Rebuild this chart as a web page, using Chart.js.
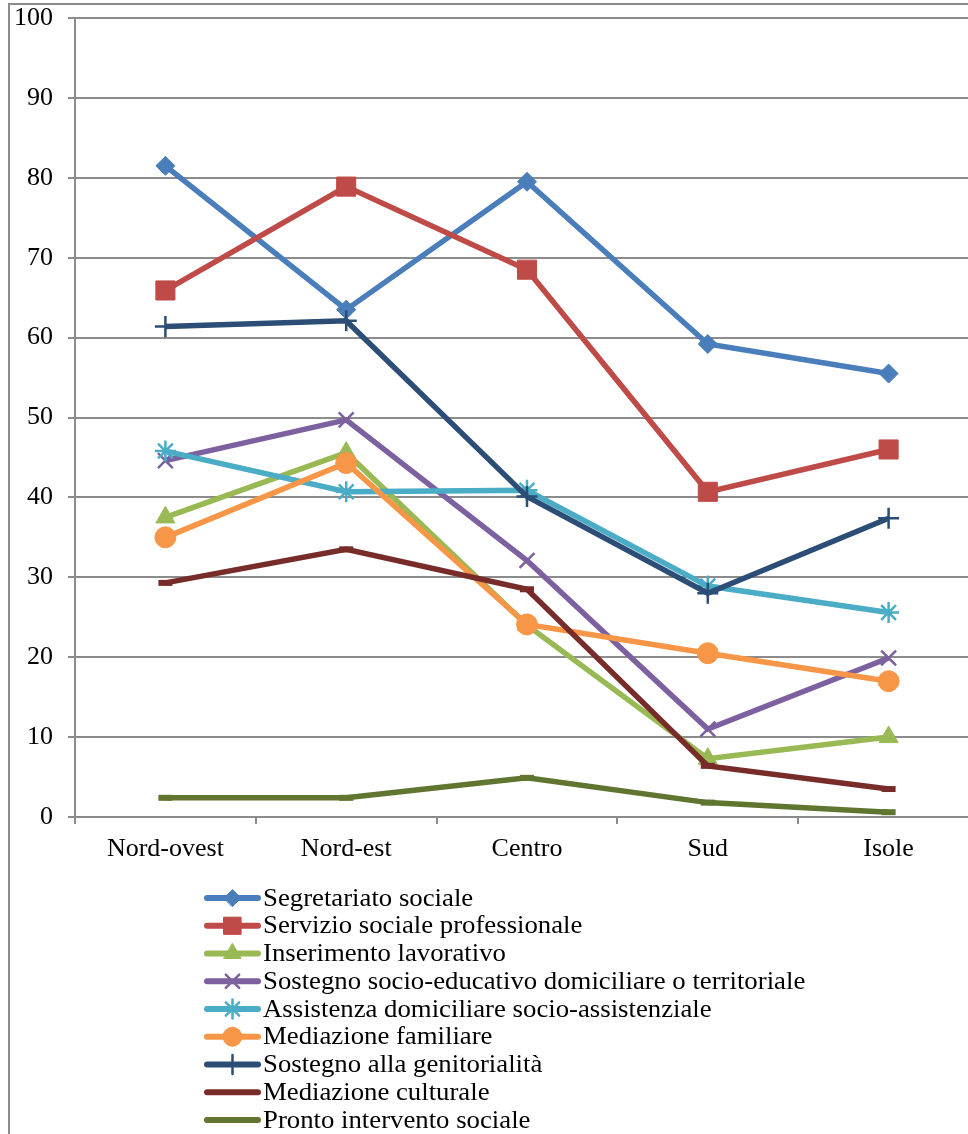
<!DOCTYPE html>
<html>
<head>
<meta charset="utf-8">
<script src="https://cdn.jsdelivr.net/npm/chart.js@4"></script>
<style>
  html, body { margin: 0; padding: 0; background: #fff; overflow: hidden; }
  canvas { display: block; }
</style>
</head>
<body>
<canvas id="grafico" width="1000" height="1134"></canvas>
<script>
// Categorie (aree geografiche)
const aree = ["Nord-ovest", "Nord-est", "Centro", "Sud", "Isole"];

// Serie
const segretariato = [81.5, 63.5, 79.5, 59.2, 55.5];
const servizioSociale = [65.9, 78.9, 68.5, 40.7, 46.0];
const inserimento = [37.5, 45.6, 24.0, 7.3, 10.0];
const sostegnoEducativo = [44.6, 49.7, 32.1, 11.0, 19.9];
const assistenzaDomiciliare = [45.8, 40.7, 40.9, 28.9, 25.6];
const mediazioneFamiliare = [35.0, 44.3, 24.1, 20.5, 17.0];
const genitorialita = [61.4, 62.1, 40.1, 28.0, 37.4];
const mediazioneCulturale = [29.3, 33.5, 28.5, 6.4, 3.5];
const prontoIntervento = [2.4, 2.4, 4.9, 1.8, 0.6];

const yTicks = [0, 10, 20, 30, 40, 50, 60, 70, 80, 90, 100];

const serie = [
    { label: "Segretariato sociale", data: segretariato, colore: "#4A7EBB", punto: "rectRot", r: 9.5 },
    { label: "Servizio sociale professionale", data: servizioSociale, colore: "#BE4B48", punto: "rect", r: 13.5 },
    { label: "Inserimento lavorativo", data: inserimento, colore: "#98B954", punto: "triangle", r: 11 },
    { label: "Sostegno socio-educativo domiciliare o territoriale", data: sostegnoEducativo, colore: "#7D60A0", punto: "crossRot", r: 10.5 },
    { label: "Assistenza domiciliare socio-assistenziale", data: assistenzaDomiciliare, colore: "#4BACC6", punto: "star", r: 10.5 },
    { label: "Mediazione familiare", data: mediazioneFamiliare, colore: "#F79646", punto: "circle", r: 10.5 },
    { label: "Sostegno alla genitorialità", data: genitorialita, colore: "#2C4D75", punto: "cross", r: 10.5 },
    { label: "Mediazione culturale", data: mediazioneCulturale, colore: "#772C2A", punto: "line", r: 7 },
    { label: "Pronto intervento sociale", data: prontoIntervento, colore: "#5F7530", punto: "line", r: 7 },
];

const GRIGIO = "#8c8c8c";
const FONT = "Liberation Serif, Times New Roman, serif";

// cornice esterna
const cornice = {
    id: "cornice",
    beforeDraw(chart) {
        const c = chart.ctx;
        c.save();
        c.fillStyle = "#fff";
        c.fillRect(0, 0, chart.width, chart.height);
        c.strokeStyle = GRIGIO;
        c.lineWidth = 2;
        c.strokeRect(9, 4, chart.width + 20, chart.height + 20);
        c.restore();
    },
};

// legenda verticale disegnata a mano
const legenda = {
    id: "legenda",
    afterDraw(chart) {
        const c = chart.ctx;
        c.save();
        chart.data.datasets.forEach((ds, i) => {
            const y = 898 + i * 27.75;
            c.strokeStyle = ds.borderColor;
            c.lineWidth = 6;
            c.lineCap = "round";
            c.beginPath();
            c.moveTo(207, y);
            c.lineTo(258, y);
            c.stroke();
            if (ds.pointStyle !== "line") {
                c.fillStyle = ds.pointBackgroundColor;
                c.strokeStyle = ds.pointBorderColor;
                c.lineWidth = ds.pointBorderWidth;
                Chart.helpers.drawPoint(c, {
                    pointStyle: ds.pointStyle,
                    radius: ds.pointRadius * 0.9,
                    rotation: 0,
                    borderWidth: ds.pointBorderWidth,
                }, 232.5, y);
            }
            c.save();
            c.translate(263, y + 1);
            c.scale(1.07, 1);
            c.fillStyle = "#000";
            c.font = "25px " + FONT;
            c.textBaseline = "middle";
            c.textAlign = "left";
            c.fillText(ds.label, 0, 0);
            c.restore();
        });
        c.restore();
    },
};

new Chart(document.getElementById("grafico"), {
    type: "line",
    data: {
        labels: aree,
        datasets: serie.map((s, i) => ({
            label: s.label,
            data: s.data,
            borderColor: s.colore,
            backgroundColor: s.colore,
            borderWidth: 5.5,
            pointStyle: s.punto,
            pointRadius: s.r,
            pointBackgroundColor: s.colore,
            pointBorderColor: s.colore,
            pointBorderWidth: ["crossRot", "star", "cross"].includes(s.punto) ? 2.5 : (s.punto === "line" ? 6 : 1),
            tension: 0,
            order: serie.length - i,
        })),
    },
    options: {
        responsive: false,
        animation: false,
        layout: { padding: { top: 18, left: 0, right: 21, bottom: 257 } },
        plugins: {
            legend: { display: false },
            tooltip: { enabled: false },
        },
        scales: {
            x: {
                offset: true,
                grid: {
                    offset: true,
                    drawOnChartArea: false,
                    drawTicks: true,
                    tickLength: 7,
                    color: GRIGIO,
                    lineWidth: 2,
                },
                border: { display: true, color: GRIGIO, width: 2 },
                ticks: { color: "#000", font: { family: FONT, size: 26 }, padding: 10 },
                afterFit(scale) { scale.height = 60; },
            },
            y: {
                min: 0,
                max: 100,
                afterBuildTicks(scale) { scale.ticks = yTicks.map((v) => ({ value: v })); },
                grid: { color: GRIGIO, lineWidth: 2, drawTicks: true, tickLength: 7 },
                border: { display: true, color: GRIGIO, width: 2 },
                ticks: { color: "#000", font: { family: FONT, size: 26 }, padding: 15 },
                afterFit(scale) {
                    scale.width = 75;
                    scale.paddingTop = 0;
                    scale.paddingBottom = 0;
                },
            },
        },
    },
    plugins: [cornice, legenda],
});
</script>
</body>
</html>
